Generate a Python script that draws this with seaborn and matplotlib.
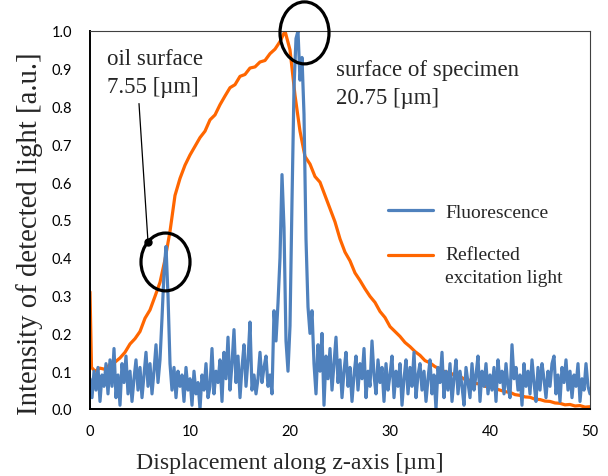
import numpy as np
import pandas as pd
import matplotlib
matplotlib.use("Agg")
import matplotlib.pyplot as plt
import seaborn as sns
from matplotlib.patches import Ellipse
from matplotlib.font_manager import FontProperties
from matplotlib.legend_handler import HandlerLine2D

# ---------------- data ----------------
fluor_step = 0.2  # µm between samples
fluorescence = [
    0.08, 0.03, 0.10, 0.05, 0.11, 0.02, 0.09, 0.06, 0.12, 0.04,
    0.13, 0.06, 0.16, 0.03, 0.09, 0.01, 0.12, 0.07, 0.14, 0.04,
    0.10, 0.02, 0.08, 0.13, 0.05, 0.11, 0.03, 0.09, 0.15, 0.06,
    0.12, 0.04, 0.10, 0.17, 0.07, 0.13, 0.24, 0.36, 0.43, 0.30,
    0.12, 0.05, 0.11, 0.03, 0.10, 0.06, 0.09, 0.02, 0.11, 0.05,
    0.08, 0.01, 0.10, 0.04, 0.07, 0.00, 0.09, 0.05, 0.12, 0.03,
    0.06, 0.16, 0.04, 0.10, 0.07, 0.13, 0.02, 0.15, 0.08, 0.19,
    0.05, 0.12, 0.21, 0.07, 0.14, 0.03, 0.11, 0.17, 0.06, 0.13,
    0.23, 0.05, 0.09, 0.04, 0.08, 0.15, 0.07, 0.11, 0.14, 0.06,
    0.09, 0.04, 0.26, 0.18, 0.28, 0.40, 0.62, 0.48, 0.18, 0.10,
    0.22, 0.55, 0.85, 0.98, 1.00, 0.87, 0.93, 0.78, 0.45, 0.27,
    0.20, 0.26, 0.12, 0.04, 0.17, 0.10, 0.20, 0.01, 0.14, 0.08,
    0.16, 0.05, 0.12, 0.19, 0.07, 0.13, 0.03, 0.10, 0.15, 0.06,
    0.11, 0.02, 0.09, 0.14, 0.05, 0.12, 0.08, 0.16, 0.03, 0.10,
    0.06, 0.18, 0.09, 0.04, 0.13, 0.07, 0.11, 0.02, 0.12, 0.05,
    0.09, 0.14, 0.03, 0.10, 0.06, 0.12, 0.01, 0.08, 0.13, 0.04,
    0.11, 0.06, 0.15, 0.03, 0.09, 0.12, 0.05, 0.10, 0.02, 0.08,
    0.13, 0.04, 0.09, 0.00, 0.11, 0.07, 0.15, 0.03, 0.10, 0.05,
    0.12, 0.02, 0.08, 0.13, 0.04, 0.10, 0.06, 0.01, 0.11, 0.07,
    0.03, 0.12, 0.05, 0.09, 0.14, 0.02, 0.10, 0.06, 0.12, 0.04,
    0.09, 0.05, 0.11, 0.02, 0.13, 0.07, 0.10, 0.04, 0.12, 0.06,
    0.03, 0.17, 0.08, 0.11, 0.05, 0.09, 0.01, 0.12, 0.06, 0.10,
    0.04, 0.13, 0.07, 0.02, 0.11, 0.05, 0.12, 0.08, 0.03, 0.10,
    0.06, 0.12, 0.14, 0.04, 0.09, 0.02, 0.11, 0.07, 0.13, 0.05,
    0.10, 0.03, 0.09, 0.06, 0.12, 0.02, 0.08, 0.05, 0.12, 0.06,
    0.04,
]
fluor_x = np.round(np.arange(len(fluorescence)) * fluor_step, 2)

refl_x = np.concatenate([[0.0, 0.15], np.arange(1, 101) * 0.5])
reflected = [
    0.310, 0.110,
    0.100, 0.108, 0.105, 0.118, 0.124, 0.135, 0.150, 0.172, 0.186, 0.205,
    0.240, 0.262, 0.298, 0.335, 0.395, 0.470, 0.565, 0.610, 0.645, 0.672,
    0.695, 0.718, 0.735, 0.765, 0.778, 0.805, 0.828, 0.850, 0.858, 0.880,
    0.885, 0.902, 0.905, 0.918, 0.922, 0.940, 0.952, 0.972, 1.000, 0.950,
    0.830, 0.735, 0.668, 0.648, 0.615, 0.600, 0.565, 0.530, 0.495, 0.450,
    0.415, 0.392, 0.360, 0.340, 0.318, 0.298, 0.282, 0.258, 0.242, 0.218,
    0.205, 0.192, 0.176, 0.165, 0.152, 0.142, 0.128, 0.122, 0.112, 0.106,
    0.098, 0.096, 0.088, 0.086, 0.078, 0.076, 0.068, 0.066, 0.060, 0.058,
    0.054, 0.050, 0.046, 0.044, 0.038, 0.036, 0.032, 0.031, 0.026, 0.025,
    0.021, 0.020, 0.016, 0.015, 0.011, 0.012, 0.008, 0.009, 0.005, 0.006,
]

x_ticks = [0, 10, 20, 30, 40, 50]
y_ticks = [0.0, 0.1, 0.2, 0.3, 0.4, 0.5, 0.6, 0.7, 0.8, 0.9, 1.0]
y_ticklabels = [f"{v:.1f}" for v in y_ticks]

oil_label = "oil surface\n7.55 [µm]"
spec_label = "surface of specimen\n20.75 [µm]"
oil_pos = 7.55
spec_pos = 20.75

# ---------------- style ----------------
sns.set_style("white")
SANS = ["Lato", "DejaVu Sans"]
SERIF = ["Liberation Serif", "DejaVu Serif"]
plt.rcParams["font.family"] = SANS

BLUE = "#4F81BD"
ORANGE = "#FF6600"


def serif(size):
    return FontProperties(family=SERIF, size=size)


class ShiftedLine(HandlerLine2D):
    """Line handle aligned with the first line of a two-line label."""
    def __init__(self, shift=0.0, **kw):
        super().__init__(**kw)
        self.shift = shift

    def create_artists(self, legend, orig_handle, xdescent, ydescent,
                       width, height, fontsize, trans):
        arts = super().create_artists(legend, orig_handle, xdescent, ydescent,
                                      width, height, fontsize, trans)
        for a in arts:
            a.set_ydata(np.asarray(a.get_ydata(), dtype=float) + self.shift * fontsize)
        return arts


fig = plt.figure(figsize=(6.08, 4.77), dpi=100)
ax = fig.add_axes([90 / 608, 1 - 410 / 477, 500 / 608, 378 / 477])

sns.lineplot(x=refl_x, y=reflected, ax=ax, color=ORANGE, lw=2.3,
             label="Reflected\nexcitation light", sort=False, estimator=None)
sns.lineplot(x=fluor_x, y=fluorescence, ax=ax, color=BLUE, lw=2.3,
             label="Fluorescence", sort=False, estimator=None)

ax.set_xlim(0, 50)
ax.set_ylim(0, 1.0)
ax.set_xticks(x_ticks)
ax.set_yticks(y_ticks)
ax.set_yticklabels(y_ticklabels)
ax.tick_params(axis="both", direction="in", length=3.5, width=1, color="black",
               labelsize=10.5, labelcolor="black")
ax.tick_params(axis="y", pad=13)
ax.tick_params(axis="x", pad=11)

for side in ["left", "bottom"]:
    ax.spines[side].set_color("black")
    ax.spines[side].set_linewidth(1.4)
for side in ["top", "right"]:
    ax.spines[side].set_color("#404040")
    ax.spines[side].set_linewidth(0.8)
    ax.spines[side].set_visible(True)

ax.set_xlabel("Displacement along z-axis [µm]", fontproperties=serif(17.2))
ax.xaxis.label.set_fontfamily(SERIF)
ax.xaxis.set_label_coords(0.40, -0.113)
ax.xaxis.label.set_va("top")
ax.set_ylabel("Intensity of detected light [a.u.]", fontproperties=serif(20.7))
ax.yaxis.label.set_fontfamily(SERIF)
ax.yaxis.set_label_coords(-0.094, 0.466)

# legend
handles, labels = ax.get_legend_handles_labels()
handles, labels = handles[::-1], labels[::-1]
leg = ax.legend(handles, labels, loc="upper left",
                bbox_to_anchor=(0.596, 0.545), frameon=False, borderpad=0,
                borderaxespad=0, handlelength=2.3, handletextpad=0.65,
                labelspacing=1.3, prop=serif(14),
                handler_map={handles[0]: HandlerLine2D(),
                             handles[1]: ShiftedLine(shift=0.54)})
for t in leg.get_texts():
    t.set_linespacing(1.45)

# annotations
ax.text(1.7, 0.955, oil_label, fontproperties=serif(16.5), va="top", ha="left",
        linespacing=1.45)
ax.text(24.6, 0.925, spec_label, fontproperties=serif(16.5), va="top", ha="left",
        linespacing=1.4)

ax.add_patch(Ellipse((oil_pos, 0.389), 4.9, 0.153, fill=False, lw=2.3,
                     edgecolor="black", zorder=5))
ax.add_patch(Ellipse((21.45, 0.995), 4.9, 0.164, fill=False, lw=2.3,
                     edgecolor="black", zorder=5, clip_on=False))

ax.annotate("", xy=(5.8, 0.442), xytext=(4.9, 0.808),
            arrowprops=dict(arrowstyle="-", lw=0.9, color="black",
                            shrinkA=0, shrinkB=0))
ax.plot([5.8], [0.442], "o", color="black", ms=5, zorder=6)

fig.savefig("out.png", dpi=100)
